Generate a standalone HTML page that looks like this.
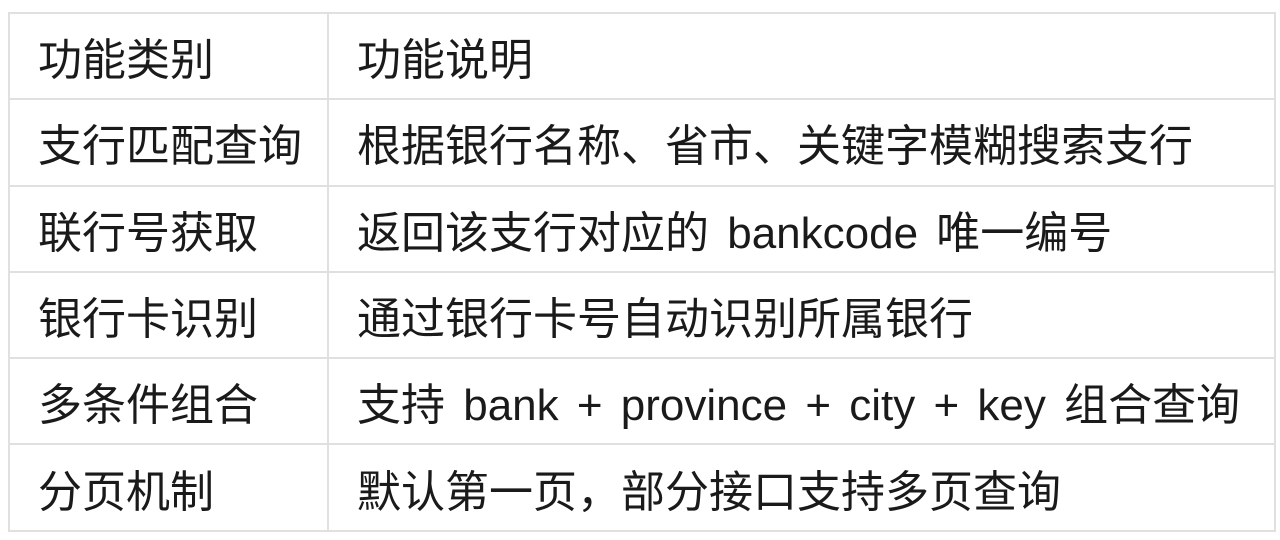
<!DOCTYPE html>
<html><head><meta charset="utf-8"><style>
html,body{margin:0;padding:0;background:#fff;width:1280px;height:540px;overflow:hidden}
table{position:absolute;left:8px;top:12px;border-collapse:collapse;font-family:"Liberation Sans","Noto Sans CJK SC",sans-serif;font-size:44px;color:#1a1a1a}
td{border:2px solid #e0e0e0;height:82px;padding:0 0 0 28px;box-sizing:border-box;vertical-align:middle;white-space:nowrap}
td.a{width:319px}
td.b{width:947px}
tr{height:86.3px}
.l{font-size:44px;word-spacing:6px}
</style></head><body>
<table>
<tr><td class="a">功能类别</td><td class="b">功能说明</td></tr>
<tr><td class="a">支行匹配查询</td><td class="b">根据银行名称、省市、关键字模糊搜索支行</td></tr>
<tr><td class="a">联行号获取</td><td class="b">返回该支行对应的<span class="l"> bankcode </span>唯一编号</td></tr>
<tr><td class="a">银行卡识别</td><td class="b">通过银行卡号自动识别所属银行</td></tr>
<tr><td class="a">多条件组合</td><td class="b">支持<span class="l"> bank + province + city + key </span>组合查询</td></tr>
<tr><td class="a">分页机制</td><td class="b">默认第一页，部分接口支持多页查询</td></tr>
</table>
</body></html>
